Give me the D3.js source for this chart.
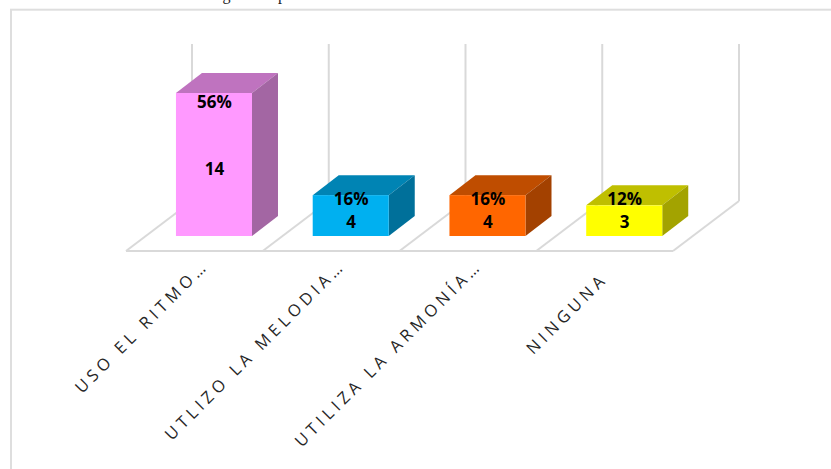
<!DOCTYPE html>
<html>
<head>
<meta charset="utf-8">
<script src="https://cdn.jsdelivr.net/npm/d3@7"></script>
<style>
  html, body { margin: 0; padding: 0; background: #fff; overflow: hidden; }
</style>
</head>
<body>
<div class="containers"></div>
<script>
const categories = ['USO EL RITMO…', 'UTLIZO LA MELODIA…', 'UTILIZA LA ARMONÍA…', 'NINGUNA']
const counts = [14, 4, 4, 3]
const percents = ['56%', '16%', '16%', '12%']
const frontColors = ['#ff99ff', '#00b0f0', '#ff6600', '#ffff00']
const topColors = ['#bf73bf', '#0084b4', '#bf4d00', '#bfbf00']
const sideColors = ['#a366a3', '#00709a', '#a34100', '#a3a300']

const width = 831
const height = 469
// floor depth offset, and bar depth offset
const floorDx = 66
const floorDy = -50
const barDx = 26
const barDy = -20
const floorFront = 251
const barBase = 236
const wallTop = 44
const grey = '#d9d9d9'

const svg = d3.select('.containers')
  .append('svg')
  .attr('width', width)
  .attr('height', height)
  .style('display', 'block')

// text cut off by the top edge of the picture
svg.append('text')
  .attr('x', 20)
  .attr('y', 0)
  .attr('font-family', 'Liberation Serif')
  .attr('font-size', 16)
  .attr('letter-spacing', 1.7)
  .attr('fill', '#222')
  .text('Fuente: Cuestionario dirigido a padres de familia')

// frame
svg.append('rect')
  .attr('x', 11)
  .attr('y', 9.7)
  .attr('width', 840)
  .attr('height', 480)
  .attr('fill', '#fff')
  .attr('stroke', '#dedede')
  .attr('stroke-width', 2)

const x = d3.scaleBand()
  .domain(categories)
  .range([145.6, 692.6])
  .paddingInner(0.444)
  .paddingOuter(0.222)

const y = d3.scaleLinear()
  .domain([0, 14])
  .range([barBase, 93])

// grid positions are the band edges on the floor front
const step = x.step()
const edges = d3.range(categories.length + 1).map(i => 126 + i * step)

const grid = svg.append('g')
  .attr('fill', 'none')
  .attr('stroke', grey)
  .attr('stroke-width', 2)

grid.selectAll('line.wall')
  .data(edges)
  .join('line')
  .attr('class', 'wall')
  .attr('x1', d => d + floorDx)
  .attr('x2', d => d + floorDx)
  .attr('y1', wallTop)
  .attr('y2', floorFront + floorDy)

grid.selectAll('line.floor')
  .data(edges)
  .join('line')
  .attr('class', 'floor')
  .attr('x1', d => d)
  .attr('x2', d => d + floorDx)
  .attr('y1', floorFront)
  .attr('y2', floorFront + floorDy)

grid.append('line')
  .attr('x1', edges[0])
  .attr('x2', edges[edges.length - 1])
  .attr('y1', floorFront)
  .attr('y2', floorFront)

const bars = svg.append('g')
  .selectAll('g')
  .data(categories)
  .join('g')

const bw = x.bandwidth()

// top face
bars.append('path')
  .attr('fill', (d, i) => topColors[i])
  .attr('d', (d, i) => {
    const x0 = x(d), yt = y(counts[i])
    return `M${x0},${yt}L${x0 + bw},${yt}L${x0 + bw + barDx},${yt + barDy}L${x0 + barDx},${yt + barDy}Z`
  })

// side face
bars.append('path')
  .attr('fill', (d, i) => sideColors[i])
  .attr('d', (d, i) => {
    const x1 = x(d) + bw, yt = y(counts[i])
    return `M${x1},${yt}L${x1 + barDx},${yt + barDy}L${x1 + barDx},${barBase + barDy}L${x1},${barBase}Z`
  })

// front face
bars.append('rect')
  .attr('fill', (d, i) => frontColors[i])
  .attr('x', d => x(d))
  .attr('y', (d, i) => y(counts[i]))
  .attr('width', bw)
  .attr('height', (d, i) => barBase - y(counts[i]))

// tall bar has its labels spread out, short ones sit stacked
bars.append('text')
  .attr('text-anchor', 'middle')
  .attr('font-family', 'Open Sans')
  .attr('font-weight', 700)
  .attr('font-size', 17)
  .attr('fill', '#000')
  .attr('x', d => x(d) + bw / 2 + 0.5)
  .attr('y', (d, i) => i === 0 ? 175 : 228)
  .text((d, i) => counts[i])

bars.append('text')
  .attr('text-anchor', 'middle')
  .attr('font-family', 'Open Sans')
  .attr('font-weight', 700)
  .attr('font-size', 17)
  .attr('fill', '#000')
  .attr('x', d => x(d) + bw / 2 + 0.5)
  .attr('y', (d, i) => i === 0 ? 108 : 205)
  .text((d, i) => percents[i])

// category axis, labels turned 45 degrees
const axis = svg.append('g')
  .attr('transform', `translate(0, ${floorFront})`)
  .call(d3.axisBottom(x).tickSize(0))

axis.select('.domain').remove()

axis.selectAll('text')
  .attr('font-family', 'Open Sans')
  .attr('font-size', 16.5)
  .attr('letter-spacing', 4.3)
  .attr('fill', '#262626')
  .attr('text-anchor', 'end')
  .attr('x', (d, i) => i === 3 ? -31.5 : -14)
  .attr('y', (d, i) => i === 3 ? 9.4 : 8)
  .attr('dy', 0)
  .attr('transform', 'rotate(-45)')
</script>
</body>
</html>
